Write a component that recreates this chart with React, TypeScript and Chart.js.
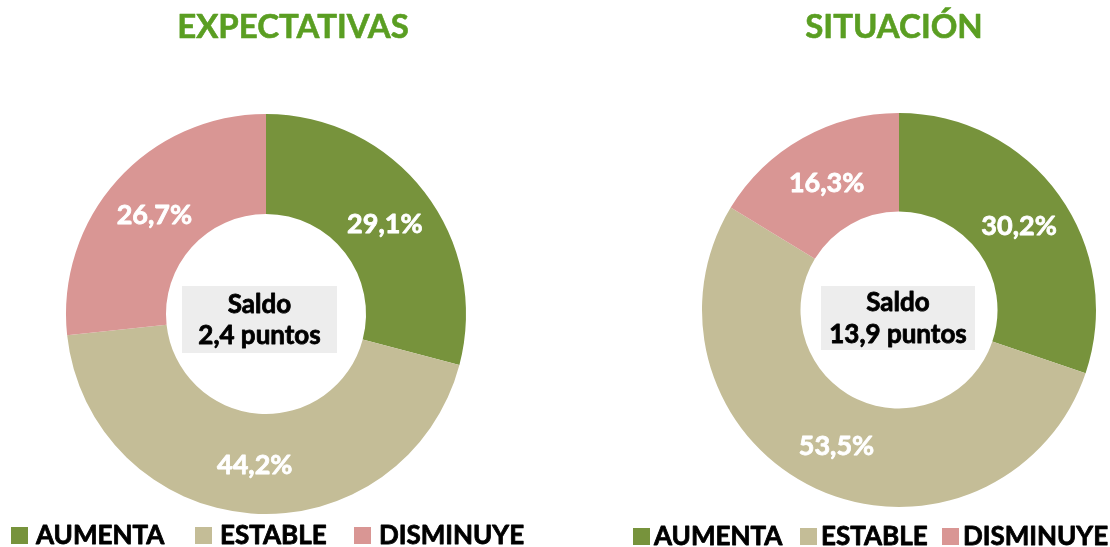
import React, { useEffect, useRef } from "react";
import { Chart, registerables } from "chart.js";

Chart.register(...registerables);

const categories = ["AUMENTA", "ESTABLE", "DISMINUYE"];
const colors = ["#77933C", "#C4BD97", "#D99694"];
const expectativasValues = [29.1, 44.2, 26.7];
const situacionValues = [30.2, 53.5, 16.3];
const chartTitles = ["EXPECTATIVAS", "SITUACIÓN"];
const saldoLines = [
  ["Saldo", "2,4 puntos"],
  ["Saldo", "13,9 puntos"],
];

const FONT = "Lato, 'Open Sans', sans-serif";

type Layout = {
  left: number;
  padding: { left: number; right: number; top: number; bottom: number };
  titleX: number;
  titleY: number;
  box: { x: number; y: number; w: number; h: number; line1: number; line2: number };
  legendSquares: number[];
  legendTextOffset: number;
  legendSquareY: number;
  legendSquareSize: number;
  legendBaseline: number;
};

const layouts: Layout[] = [
  {
    left: 0,
    padding: { left: 66, right: 89, top: 114, bottom: 33 },
    titleX: 293,
    titleY: 38,
    box: { x: 182, y: 286, w: 155, h: 67, line1: 313, line2: 344 },
    legendSquares: [11, 195, 354],
    legendTextOffset: 25,
    legendSquareY: 527,
    legendSquareSize: 17,
    legendBaseline: 544,
  },
  {
    left: 555,
    padding: { left: 147, right: 14, top: 113, bottom: 40 },
    titleX: 894,
    titleY: 38,
    box: { x: 821, y: 286, w: 154, h: 64, line1: 311, line2: 343 },
    legendSquares: [633, 800, 942],
    legendTextOffset: 21,
    legendSquareY: 528,
    legendSquareSize: 17,
    legendBaseline: 545,
  },
];

const fmt = (v: number) => v.toFixed(1).replace(".", ",") + "%";

function heavyText(ctx: CanvasRenderingContext2D, text: string, x: number, y: number, color: string, w: number) {
  ctx.fillStyle = color;
  ctx.strokeStyle = color;
  ctx.lineWidth = w;
  ctx.lineJoin = "round";
  ctx.fillText(text, x, y);
  if (w > 0) ctx.strokeText(text, x, y);
}

function makeOverlay(idx: number) {
  const L = layouts[idx];
  return {
    id: "overlay" + idx,
    afterDraw(chart: any) {
      const ctx = chart.ctx as CanvasRenderingContext2D;
      const ox = L.left;
      ctx.save();
      // title
      ctx.font = `bold 33px ${FONT}`;
      ctx.textAlign = "center";
      ctx.textBaseline = "alphabetic";
      heavyText(ctx, chartTitles[idx], L.titleX - ox, L.titleY, "#5A9E22", 0.6);

      // data labels
      const meta = chart.getDatasetMeta(0);
      const vals = chart.data.datasets[0].data as number[];
      ctx.font = `bold 27px ${FONT}`;
      ctx.textBaseline = "middle";
      meta.data.forEach((arc: any, i: number) => {
        const p = arc.getCenterPoint();
        heavyText(ctx, fmt(vals[i]), p.x, p.y + 2, "#FFFFFF", 0.8);
      });

      // center box
      const b = L.box;
      ctx.fillStyle = "#EDEDED";
      ctx.fillRect(b.x - ox, b.y, b.w, b.h);
      ctx.font = `bold 26px ${FONT}`;
      ctx.textBaseline = "alphabetic";
      const cx = b.x - ox + b.w / 2;
      heavyText(ctx, saldoLines[idx][0], cx, b.line1, "#000000", 0.8);
      heavyText(ctx, saldoLines[idx][1], cx, b.line2, "#000000", 0.8);

      // legend
      ctx.textAlign = "left";
      ctx.font = `bold 26px ${FONT}`;
      categories.forEach((c, i) => {
        const sx = L.legendSquares[i] - ox;
        ctx.fillStyle = colors[i];
        ctx.fillRect(sx, L.legendSquareY, L.legendSquareSize, L.legendSquareSize);
        heavyText(ctx, c, sx + L.legendTextOffset, L.legendBaseline, "#000000", 0.8);
      });
      ctx.restore();
    },
  };
}

function DonutChart({ idx, values }: { idx: number; values: number[] }) {
  const ref = useRef<HTMLCanvasElement | null>(null);
  useEffect(() => {
    if (!ref.current) return;
    const L = layouts[idx];
    const chart = new Chart(ref.current, {
      type: "doughnut",
      data: {
        labels: categories,
        datasets: [
          {
            data: values,
            backgroundColor: colors,
            borderWidth: 0,
          },
        ],
      },
      options: {
        responsive: false,
        animation: false,
        cutout: "50%",
        layout: { padding: L.padding },
        plugins: {
          legend: { display: false },
          title: { display: false },
          tooltip: { enabled: false },
        },
      },
      plugins: [makeOverlay(idx)],
    });
    return () => chart.destroy();
  }, [idx, values]);
  const L = layouts[idx];
  return (
    <canvas
      ref={ref}
      width={555}
      height={547}
      style={{ position: "absolute", left: L.left, top: 0, width: 555, height: 547 }}
    />
  );
}

export default function App() {
  return (
    <div
      style={{
        position: "fixed",
        left: 0,
        top: 0,
        width: 1110,
        height: 547,
        background: "#FFFFFF",
        overflow: "hidden",
      }}
    >
      <DonutChart idx={0} values={expectativasValues} />
      <DonutChart idx={1} values={situacionValues} />
    </div>
  );
}
